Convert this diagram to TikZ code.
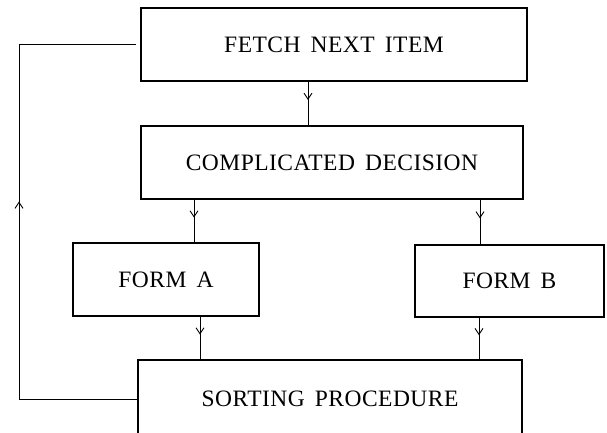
\documentclass[tikz,border=0pt]{standalone}
\usepackage{fontspec}
\setmainfont[LetterSpace=2,WordSpace=1.6]{Liberation Serif}
\usetikzlibrary{arrows.meta,decorations.markings}
\tikzset{
  box/.style={draw, line width=1.1pt, inner sep=0pt, font=\fontsize{23.5}{27}\selectfont},
  flow/.style={line width=0.9pt, decoration={markings,
      mark=at position #1 with {\arrow{Straight Barb[length=6pt,width=8pt]}}},
    postaction={decorate}},
  flow/.default=0.42
}
\begin{document}
\begin{tikzpicture}[x=1pt, y=-1pt]
    \useasboundingbox (0,0) rectangle (607,433);
    \clip (0,0) rectangle (607,433);
    % the boxes
    \node[box, minimum width=386pt, minimum height=73pt] (fetch) at (334,44.5) {FETCH NEXT ITEM};
    \node[box, minimum width=382pt, minimum height=73pt] (decide) at (332,162.5) {COMPLICATED DECISION};
    \node[box, minimum width=186pt, minimum height=73pt] (forma) at (166,279.5) {FORM A};
    \node[box, minimum width=189pt, minimum height=72pt] (formb) at (509.5,281) {FORM B};
    \node[box, minimum width=384pt, minimum height=78pt] (sort) at (330,399) {SORTING PROCEDURE};
    % downward links
    \foreach \x/\a/\b in {308/fetch/decide, 194/decide/forma, 200/forma/sort, 480/decide/formb, 479/formb/sort}
        \draw[flow] (\x,0 |- \a.south) -- (\x,0 |- \b.north);
    % loop back to the top
    \coordinate (back) at (19,0);
    \draw[flow=0.535] (sort.west) -- (back |- sort.west) -- (back |- fetch.west) -- ([xshift=-4pt]fetch.west);
\end{tikzpicture}
\end{document}
